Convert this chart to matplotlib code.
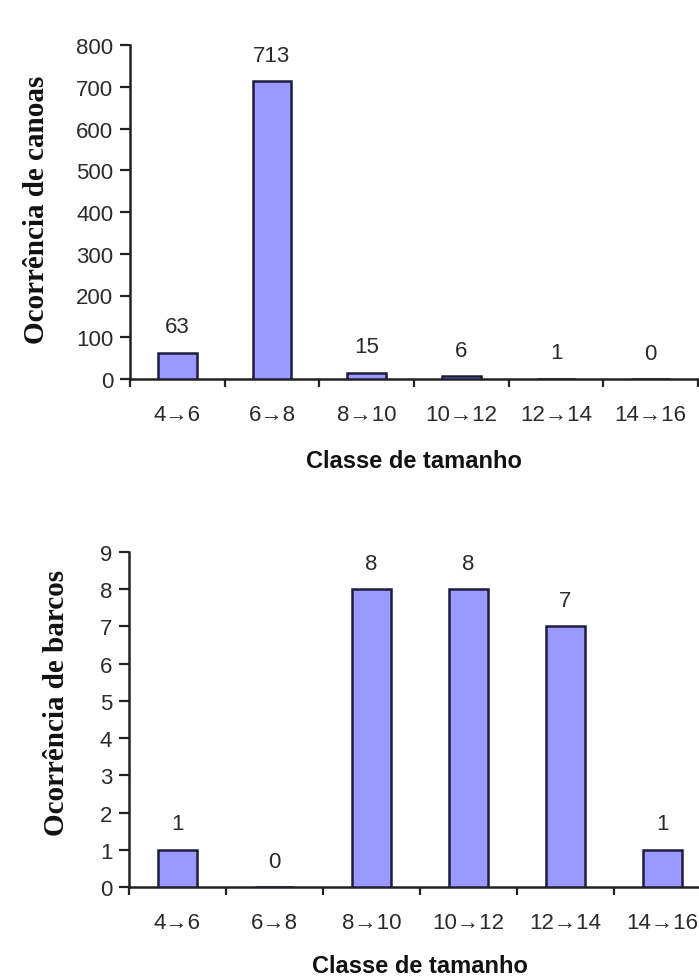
import matplotlib
matplotlib.use("Agg")
import matplotlib.pyplot as plt
import numpy as np

classes = ["4\u21926", "6\u21928", "8\u219210", "10\u219212", "12\u219214", "14\u219216"]
canoas = [63, 713, 15, 6, 1, 0]
barcos = [1, 0, 8, 8, 7, 1]

bar_color = "#9999ff"
edge_color = "#1c1c3c"
text_color = "#2a2a2a"
sans = ["Liberation Sans", "DejaVu Sans"]
serif = ["Liberation Serif", "DejaVu Serif"]

fig = plt.figure(figsize=(6.99, 9.79), dpi=100)
fig.patch.set_facecolor("white")

ax1 = fig.add_axes([130/699, 1-380/979, 568/699, 334/979])
ax2 = fig.add_axes([129/699, 1-888/979, 582/699, 335/979])


def draw(ax, values, ymax, ystep, ylabel, ylab_pos, xlab_y):
    x = np.arange(len(classes))
    ax.bar(x, values, width=0.41, color=bar_color, edgecolor=edge_color, linewidth=1.8, zorder=3)
    for xi, v in zip(x, values):
        ax.annotate(str(v), (xi, v), xytext=(0, 11), textcoords="offset points",
                    ha="center", va="bottom", fontsize=16, color=text_color, family=sans)
    ax.set_xlim(-0.5, len(classes) - 0.5)
    ax.set_ylim(0, ymax)
    ax.set_yticks(np.arange(0, ymax + ystep, ystep))
    ax.set_xticks(x)
    ax.set_xticklabels(classes, family=sans, fontsize=16, color=text_color)
    ax.set_xticks(np.arange(-0.5, len(classes), 1.0), minor=True)
    ax.tick_params(axis="x", which="major", length=0, pad=18)
    ax.tick_params(axis="x", which="minor", length=6, width=1.6, direction="out", color="#222222")
    ax.tick_params(axis="y", length=7, width=1.6, direction="out", pad=5, color="#222222",
                   labelsize=16, labelcolor=text_color)
    for lab in ax.get_yticklabels():
        lab.set_family(sans)
    for s in ["top", "right"]:
        ax.spines[s].set_visible(False)
    for s in ["left", "bottom"]:
        ax.spines[s].set_linewidth(1.8)
        ax.spines[s].set_color("#222222")
    ax.set_ylabel(ylabel, family=serif, fontweight="bold", fontsize=21, color="#111111")
    ax.yaxis.set_label_coords(*ylab_pos)
    # x label placed in figure pixels, baseline given
    fig.text(ax.get_position().x0 + ax.get_position().width / 2, xlab_y, "Classe de tamanho",
             family=sans, fontweight="bold", fontsize=17, color="#111111",
             ha="center", va="baseline")


draw(ax1, canoas, 800, 100, "Ocorr\u00eancia de canoas", (-0.141, 0.509), 1 - 468/979)
draw(ax2, barcos, 9, 1, "Ocorr\u00eancia de barcos", (-0.101, 0.552), 1 - 973/979)

fig.savefig("out.png", dpi=100, facecolor="white")
